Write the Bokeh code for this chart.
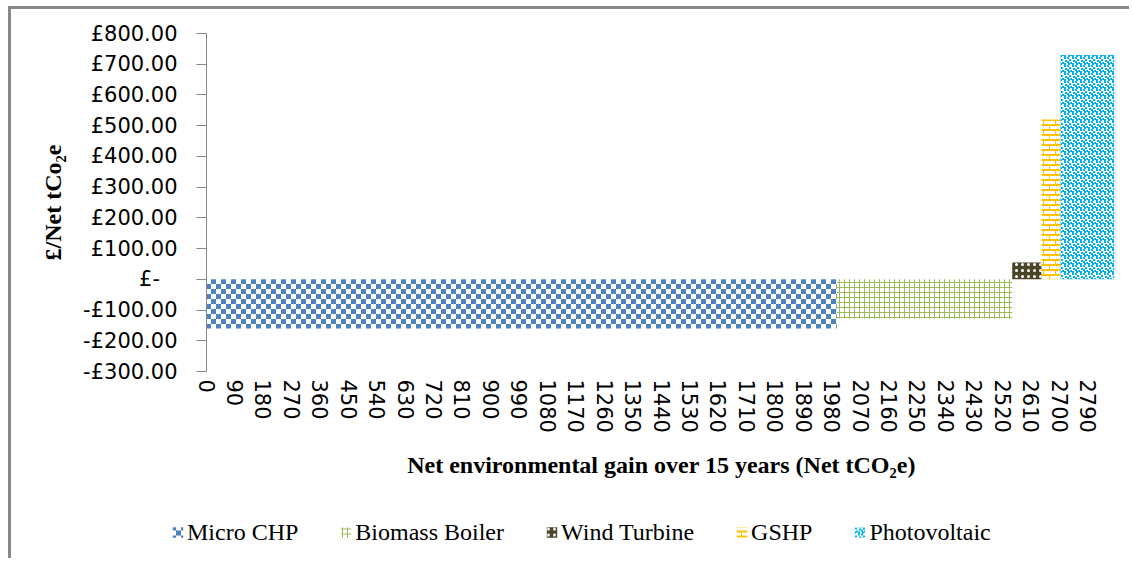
import base64
import numpy as np
from bokeh.plotting import figure
from bokeh.models import (ColumnDataSource, FixedTicker, CustomJSTickFormatter, Legend,
                          LegendItem, ImageURLTexture, Range1d)
from bokeh.core.properties import value
from bokeh.embed import file_html
from bokeh.resources import INLINE

# ---------------- data ----------------
technologies = ["Micro CHP", "Biomass Boiler", "Wind Turbine", "GSHP", "Photovoltaic"]
net_gain = [1995, 555, 93, 60, 170]          # Net tCO2e over 15 years (bar widths)
cost_per_t = [-160, -128, 55, 520, 730]      # £ / Net tCO2e (bar heights)
x_ticks = list(range(0, 2791, 90))
y_ticks = [-300, -200, -100, 0, 100, 200, 300, 400, 500, 600, 700, 800]

# ---------------- styles ----------------
colors = ["#4F81BD", "#9BBB59", "#FFFFFF", "#FFC000", "#00B0F0"]
fills = ["#FFFFFF", "#FFFFFF", "#4A452A", "#FFFFFF", "#FFFFFF"]


def svg_tile(body, w, h):
    s = ("<svg xmlns='http://www.w3.org/2000/svg' width='%d' height='%d' "
         "shape-rendering='crispEdges'>%s</svg>" % (w, h, body))
    return "data:image/svg+xml;base64," + base64.b64encode(s.encode()).decode()


checker_url = svg_tile(
    "<rect width='5' height='5' fill='#4F81BD'/>"
    "<rect x='5' y='5' width='5' height='5' fill='#4F81BD'/>", 10, 10)
brick_url = svg_tile(
    "<rect x='0' y='0' width='12' height='2' fill='#FFC000'/>"
    "<rect x='0' y='5' width='12' height='2' fill='#FFC000'/>"
    "<rect x='0' y='0' width='1' height='5' fill='#FFC000'/>"
    "<rect x='6' y='5' width='1' height='5' fill='#FFC000'/>", 12, 10)
confetti_url = svg_tile("".join(
    "<rect x='%d' y='%d' width='2' height='2' fill='#00B0F0'/>" % (a, b)
    for a, b in [(0, 0), (5, 0), (2, 2), (6, 3), (0, 4), (3, 5), (1, 6), (5, 6)]), 8, 8)


def hatch_spec(i):
    specs = [
        dict(hatch_pattern=value("checker"),
             hatch_extra={"checker": ImageURLTexture(url=checker_url, repetition="repeat")}),
        dict(hatch_pattern="+", hatch_scale=5, hatch_weight=1),
        dict(hatch_pattern=".", hatch_scale=6, hatch_weight=1.5),
        dict(hatch_pattern=value("brick"),
             hatch_extra={"brick": ImageURLTexture(url=brick_url, repetition="repeat")}),
        dict(hatch_pattern=value("confetti"),
             hatch_extra={"confetti": ImageURLTexture(url=confetti_url, repetition="repeat")}),
    ]
    return specs[i]


right = np.cumsum(net_gain)
left = right - np.array(net_gain)
sources = [ColumnDataSource(dict(left=[left[i]], right=[right[i]],
                                 top=[max(cost_per_t[i], 0)], bottom=[min(cost_per_t[i], 0)]))
           for i in range(len(technologies))]

# ---------------- main chart ----------------
p = figure(width=1121, height=500, output_backend="svg", toolbar_location=None,
           x_range=Range1d(0, 2880), y_range=Range1d(-300, 800),
           min_border_left=195, min_border_right=16, min_border_top=24, min_border_bottom=138)
p.xgrid.visible = False
p.ygrid.visible = False
p.outline_line_color = None
p.background_fill_color = "white"
p.border_fill_color = "white"
p.styles = {"margin-left": "8px", "margin-top": "6px",
            "border-left": "3px solid #878787", "border-top": "3px solid #878787"}

for i, name in enumerate(technologies):
    p.quad(left="left", right="right", top="top", bottom="bottom", source=sources[i],
           fill_color=fills[i], line_color=None, hatch_color=colors[i], **hatch_spec(i))

# y axis
ya = p.yaxis[0]
ya.ticker = FixedTicker(ticks=y_ticks, minor_ticks=[])
ya.formatter = CustomJSTickFormatter(code="""
if (Math.abs(tick) < 1e-9) { return "£-\\u00a0\\u00a0\\u2009"; }
const s = "£" + Math.abs(tick).toFixed(2);
return tick < 0 ? "-" + s : s;
""")
ya.axis_line_color = "#868686"
ya.major_tick_line_color = "#868686"
ya.major_tick_out = 10
ya.major_tick_in = 0
ya.minor_tick_out = 0
ya.minor_tick_in = 0
ya.major_label_standoff = 19
ya.major_label_text_font = "DejaVu Sans"
ya.major_label_text_font_size = "21px"
ya.major_label_text_color = "black"
ya.axis_label = "£/Net tCo₂e"
ya.axis_label_text_font = "Liberation Serif"
ya.axis_label_text_font_style = "bold"
ya.axis_label_text_font_size = "24px"
ya.axis_label_text_color = "black"
ya.axis_label_standoff = 14

# x axis
xa = p.xaxis[0]
xa.ticker = FixedTicker(ticks=x_ticks, minor_ticks=[])
xa.major_label_orientation = "vertical"
xa.axis_line_color = None
xa.major_tick_line_color = None
xa.minor_tick_line_color = None
xa.major_tick_out = 0
xa.major_tick_in = 0
xa.major_label_standoff = 8
xa.major_label_text_font = "DejaVu Sans"
xa.major_label_text_font_size = "21px"
xa.major_label_text_color = "black"
xa.axis_label = "Net environmental gain over 15 years (Net tCO₂e)"
xa.axis_label_text_font = "Liberation Serif"
xa.axis_label_text_font_style = "bold"
xa.axis_label_text_font_size = "24px"
xa.axis_label_text_color = "black"
xa.axis_label_standoff = 16

# ---------------- legend strip (swatch renderers kept out of view) ----------------
lf = figure(width=1121, height=52, output_backend="svg", toolbar_location=None,
            x_axis_type=None, y_axis_type=None,
            x_range=Range1d(-20, -10), y_range=Range1d(-20, -10),
            min_border_left=160, min_border_right=0, min_border_top=0, min_border_bottom=0)
lf.grid.visible = False
lf.outline_line_color = None
lf.background_fill_color = "white"
lf.border_fill_color = "white"
lf.styles = {"margin-left": "8px", "border-left": "3px solid #878787"}

items = []
for i, name in enumerate(technologies):
    r = lf.quad(left="left", right="right", top="top", bottom="bottom", source=sources[i],
                fill_color=fills[i], line_color=None, hatch_color=colors[i], **hatch_spec(i))
    items.append(LegendItem(label=name, renderers=[r]))

legend = Legend(items=items, orientation="horizontal", location="center_left",
                padding=0, margin=0, spacing=41, label_standoff=3,
                glyph_width=13, glyph_height=13,
                label_text_font="Liberation Serif", label_text_font_size="24px",
                label_text_color="black",
                background_fill_alpha=0, border_line_alpha=0)
lf.add_layout(legend)

open("out.html", "w", encoding="utf-8").write(file_html([p, lf], INLINE))
